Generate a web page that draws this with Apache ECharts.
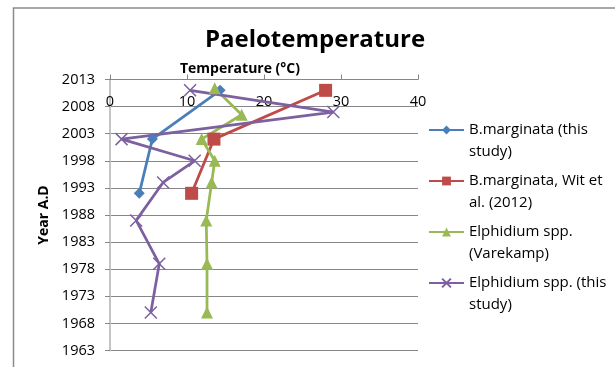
<!DOCTYPE html>
<html>
<head>
<meta charset="utf-8">
<script src="https://cdn.jsdelivr.net/npm/echarts@6/dist/echarts.min.js"></script>
<style>
  html, body { margin: 0; padding: 0; background: #fff; }
  #chart { width: 615px; height: 367px; }
</style>
</head>
<body>
<div id="chart"></div>
<script>
// Temperature (°C) against year A.D. for each record
const seriesNames = [
  'B.marginata (this study)',
  'B.marginata, Wit et al. (2012)',
  'Elphidium spp. (Varekamp)',
  'Elphidium spp. (this study)'
];
const legendLines = [
  ['B.marginata (this', 'study)'],
  ['B.marginata, Wit et', 'al. (2012)'],
  ['Elphidium spp.', '(Varekamp)'],
  ['Elphidium spp. (this', 'study)']
];

const bmThisTemp = [14.3, 5.5, 3.8];
const bmThisYear = [2011, 2002, 1992];

const bmWitTemp = [28, 13.5, 10.6];
const bmWitYear = [2011, 2002, 1992];

const elVarTemp = [13.6, 17.1, 11.9, 13.6, 13.2, 12.5, 12.6, 12.6];
const elVarYear = [2011.4, 2006.5, 2002, 1998, 1994, 1987, 1979, 1970];

const elThisTemp = [10.4, 29, 1.5, 11, 6.9, 3.4, 6.4, 5.3];
const elThisYear = [2011, 2007, 2002, 1998, 1994, 1987, 1979, 1970];

const yearTicks = [1963, 1968, 1973, 1978, 1983, 1988, 1993, 1998, 2003, 2008, 2013];
const tempTicks = [0, 10, 20, 30, 40];

const colors = ['#4A7EBB', '#BE4B48', '#98B954', '#7D60A0'];
const FONT = '"Open Sans", Lato, sans-serif';

function pairs(xs, ys) {
  return xs.map((x, i) => [x, ys[i]]);
}

// legend text: a blank first line keeps the marker level with the first text line
function legendText(name) {
  const lines = legendLines[seriesNames.indexOf(name)];
  return '\n' + lines.join('\n');
}

const crossPath = 'path://M0,0L10,10M10,0L0,10';

const chart = echarts.init(document.getElementById('chart'), null, { renderer: 'canvas' });

chart.setOption({
  animation: false,
  backgroundColor: '#fff',
  textStyle: { fontFamily: FONT },
  title: [
    {
      text: 'Paelotemperature',
      left: 310,
      textAlign: 'center',
      top: 23,
      textStyle: { fontFamily: FONT, fontSize: 24, fontWeight: 'bold', color: '#000' }
    },
    {
      text: 'Temperature (°C)',
      left: 235,
      textAlign: 'center',
      top: 57,
      textStyle: { fontFamily: FONT, fontSize: 14, fontWeight: 'bold', color: '#000' }
    }
  ],
  graphic: [
    {
      type: 'rect',
      silent: true,
      shape: { x: 13.5, y: 8, width: 700, height: 500 },
      style: { fill: 'none', stroke: '#8a8a8a', lineWidth: 1.5 }
    }
  ],
  grid: { left: 110, right: 197, top: 79.5, bottom: 16.5, containLabel: false },
  legend: {
    orient: 'vertical',
    left: 423,
    top: 92,
    itemWidth: 35,
    itemHeight: 11,
    itemGap: -15,
    data: seriesNames,
    formatter: legendText,
    textStyle: {
      fontFamily: FONT,
      fontSize: 15,
      color: '#000',
      lineHeight: 22
    }
  },
  xAxis: {
    type: 'value',
    position: 'top',
    min: tempTicks[0],
    max: tempTicks[tempTicks.length - 1],
    interval: tempTicks[1] - tempTicks[0],
    axisLine: { show: true, onZero: false, lineStyle: { color: '#868686', width: 1 } },
    axisTick: { show: true, inside: false, length: 5, lineStyle: { color: '#868686' } },
    axisLabel: {
      inside: true,
      margin: 15,
      fontFamily: FONT,
      fontSize: 14.5,
      color: '#000'
    },
    splitLine: { show: false }
  },
  yAxis: {
    type: 'value',
    min: yearTicks[0],
    max: yearTicks[yearTicks.length - 1],
    interval: yearTicks[1] - yearTicks[0],
    name: 'Year A.D',
    nameLocation: 'middle',
    nameGap: 48,
    nameTextStyle: { fontFamily: FONT, fontSize: 14, fontWeight: 'bold', color: '#000' },
    axisLine: { show: true, onZero: false, lineStyle: { color: '#c4c4c4', width: 2 } },
    axisTick: { show: true, length: 5, lineStyle: { color: '#868686' } },
    axisLabel: {
      margin: 15,
      fontFamily: FONT,
      fontSize: 14.5,
      color: '#000',
      formatter: v => String(v)
    },
    splitLine: { show: true, lineStyle: { color: '#868686', width: 1 } }
  },
  series: [
    {
      name: seriesNames[0],
      type: 'line',
      data: pairs(bmThisTemp, bmThisYear),
      symbol: 'diamond',
      symbolSize: 11,
      lineStyle: { color: colors[0], width: 2.75 },
      itemStyle: { color: colors[0] }
    },
    {
      name: seriesNames[1],
      type: 'line',
      data: pairs(bmWitTemp, bmWitYear),
      symbol: 'rect',
      symbolSize: 13,
      lineStyle: { color: colors[1], width: 2.75 },
      itemStyle: { color: colors[1] }
    },
    {
      name: seriesNames[2],
      type: 'line',
      data: pairs(elVarTemp, elVarYear),
      symbol: 'triangle',
      symbolSize: 12,
      lineStyle: { color: colors[2], width: 2.75 },
      itemStyle: { color: colors[2] }
    },
    {
      name: seriesNames[3],
      type: 'line',
      data: pairs(elThisTemp, elThisYear),
      symbol: crossPath,
      symbolSize: 12,
      lineStyle: { color: colors[3], width: 2.75 },
      itemStyle: { color: 'none', borderColor: colors[3], borderWidth: 1.5 }
    }
  ]
});
</script>
</body>
</html>
